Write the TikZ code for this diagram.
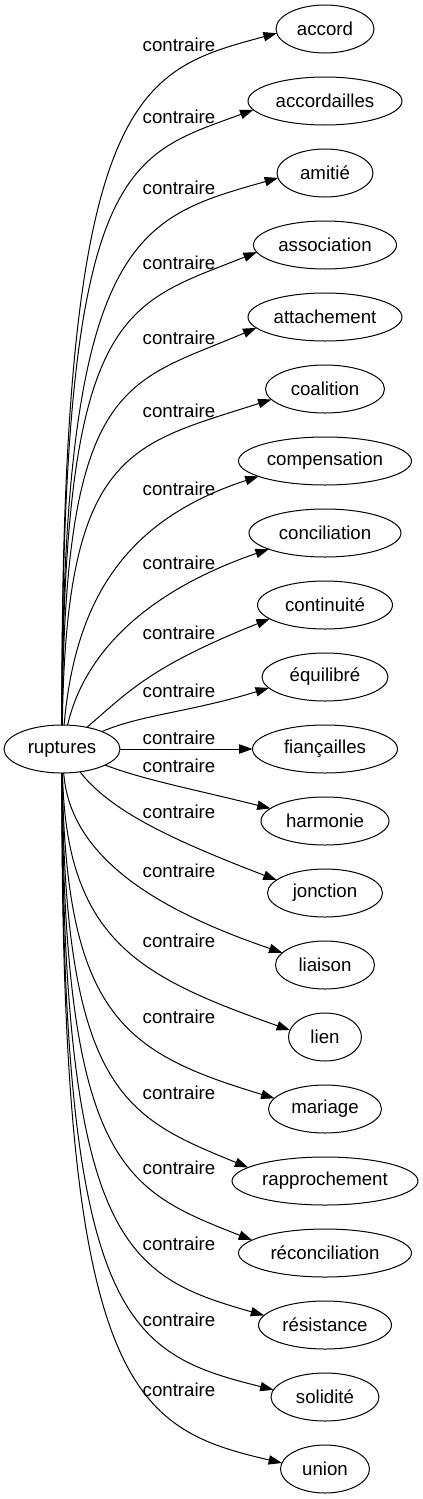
\documentclass[tikz,border=0pt]{standalone}
\usepackage{fontspec}
\setmainfont{Liberation Sans}
\usetikzlibrary{shapes.geometric,positioning,arrows.meta}
\tikzset{
  >={Triangle[length=10pt,width=7pt]},
  mot/.style={draw, ellipse, minimum height=36pt, inner sep=0pt, outer sep=0pt,
    font=\fontsize{14pt}{16pt}\selectfont},
  rel/.style={inner sep=0pt, font=\fontsize{14pt}{16pt}\selectfont},
}

\begin{document}
\begin{tikzpicture}[x=0.75pt, y=-0.75pt, line width=0.75pt, node distance=18pt]
  \useasboundingbox (0,0) rectangle (423,1499);
  % mot de depart
  \node[mot, minimum width=87pt] (ruptures) at (62,749) {ruptures};
  % colonne des contraires
  \node[mot, minimum width=73.5pt] (accord) at (325,29) {accord};
  \node[mot, minimum width=115.5pt] (accordailles) [below=of accord] {accordailles};
  \node[mot, minimum width=72pt] (amitie) [below=of accordailles] {amitié};
  \node[mot, minimum width=107.25pt] (association) [below=of amitie] {association};
  \node[mot, minimum width=115.5pt] (attachement) [below=of association] {attachement};
  \node[mot, minimum width=89.25pt] (coalition) [below=of attachement] {coalition};
  \node[mot, minimum width=129.75pt] (compensation) [below=of coalition] {compensation};
  \node[mot, minimum width=114pt] (conciliation) [below=of compensation] {conciliation};
  \node[mot, minimum width=101.25pt] (continuite) [below=of conciliation] {continuité};
  \node[mot, minimum width=94.5pt] (equilibre) [below=of continuite] {équilibré};
  \node[mot, minimum width=108.75pt] (fiancailles) [below=of equilibre] {fiançailles};
  \node[mot, minimum width=96pt] (harmonie) [below=of fiancailles] {harmonie};
  \node[mot, minimum width=86.25pt] (jonction) [below=of harmonie] {jonction};
  \node[mot, minimum width=74.25pt] (liaison) [below=of jonction] {liaison};
  \node[mot, minimum width=54.75pt] (lien) [below=of liaison] {lien};
  \node[mot, minimum width=84.75pt] (mariage) [below=of lien] {mariage};
  \node[mot, minimum width=139.5pt] (rapprochement) [below=of mariage] {rapprochement};
  \node[mot, minimum width=129.75pt] (reconciliation) [below=of rapprochement] {réconciliation};
  \node[mot, minimum width=99.75pt] (resistance) [below=of reconciliation] {résistance};
  \node[mot, minimum width=81pt] (solidite) [below=of resistance] {solidité};
  \node[mot, minimum width=66.75pt] (union) [below=of solidite] {union};

  % etiquettes
  \node[rel] (k1) at (179,45) {contraire};
  \node[rel] (k2) at (179,117) {contraire};
  \node[rel] (k3) at (179,188) {contraire};
  \node[rel] (k4) at (179,263) {contraire};
  \node[rel] (k5) at (179,338) {contraire};
  \node[rel] (k6) at (179,411) {contraire};
  \node[rel] (k7) at (179,489) {contraire};
  \node[rel] (k8) at (179,563) {contraire};
  \node[rel] (k9) at (179,633) {contraire};
  \node[rel] (k10) at (179,691) {contraire};
  \node[rel] (k11) at (179,738) {contraire};
  \node[rel] (k12) at (179,766) {contraire};
  \node[rel] (k13) at (179,812) {contraire};
  \node[rel] (k14) at (179,871) {contraire};
  \node[rel] (k15) at (179,941) {contraire};
  \node[rel] (k16) at (179,1017) {contraire};
  \node[rel] (k17) at (179,1093) {contraire};
  \node[rel] (k18) at (179,1168) {contraire};
  \node[rel] (k19) at (179,1244) {contraire};
  \node[rel] (k20) at (179,1320) {contraire};
  \node[rel] (k21) at (179,1390) {contraire};

  % aretes
  \draw[->] (ruptures) .. controls (60,89) and (137,71) .. (accord.185);
  \draw[->] (ruptures) .. controls (61,161) and (125,157) .. (accordailles.187);
  \draw[->] (ruptures) .. controls (62,233) and (138,218) .. (amitie.186);
  \draw[->] (ruptures) .. controls (63,305) and (125,305) .. (association.186);
  \draw[->] (ruptures) .. controls (64,377) and (125,384) .. (attachement.189);
  \draw[->] (ruptures) .. controls (66,449) and (130,445) .. (coalition.191);
  \draw[->] (ruptures) .. controls (75,600) and (125,520) .. (compensation.193);
  \draw[->] (ruptures) .. controls (85,650) and (150,590) .. (conciliation.196);
  \draw[->] (ruptures) .. controls (130,690) and (152,666) .. (continuite.194);
  \draw[->] (ruptures) .. controls (140,715) and (190,712) .. (equilibre.191);
  \draw[->] (ruptures) -- (fiancailles);
  \draw[->] (ruptures) .. controls (145,780) and (188,788) .. (harmonie.167);
  \draw[->] (ruptures) .. controls (110,810) and (167,838) .. (jonction.165);
  \draw[->] (ruptures) .. controls (70,860) and (163,912) .. (liaison.164);
  \draw[->] (ruptures) .. controls (66,941) and (140,977) .. (lien.169);
  \draw[->] (ruptures) .. controls (65,1017) and (125,1053) .. (mariage.168);
  \draw[->] (ruptures) .. controls (64,1093) and (125,1117) .. (rapprochement.170);
  \draw[->] (ruptures) .. controls (63,1168) and (125,1190) .. (reconciliation.170);
  \draw[->] (ruptures) .. controls (62,1244) and (125,1276) .. (resistance.171);
  \draw[->] (ruptures) .. controls (61,1320) and (125,1353) .. (solidite.172);
  \draw[->] (ruptures) .. controls (60,1390) and (132,1428) .. (union.172);
\end{tikzpicture}
\end{document}
